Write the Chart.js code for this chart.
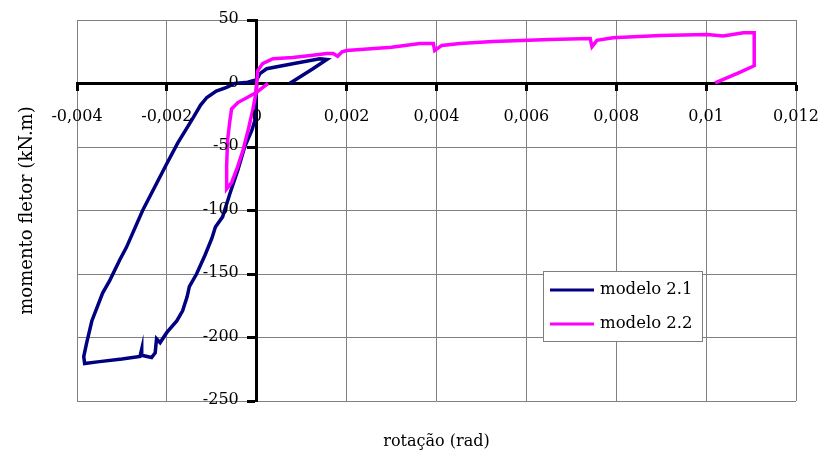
<!DOCTYPE html>
<html>
<head>
<meta charset="utf-8">
<script src="https://cdn.jsdelivr.net/npm/chart.js@4/dist/chart.umd.min.js"></script>
<style>
  html, body { margin: 0; padding: 0; background: #fff; }
  #wrap { width: 824px; height: 455px; }
</style>
</head>
<body>
<div id="wrap"><canvas id="c" width="824" height="455"></canvas></div>
<script>
// ---- data ----
const seriesNames = ['modelo 2.1', 'modelo 2.2'];

const m21Rot = [0, -0.00004, -0.00004, -0.00011, -0.00027, -0.00042, -0.0006, -0.00076, -0.00092, -0.001, -0.00115,
  -0.00134, -0.0015, -0.00155, -0.00165, -0.00178, -0.002, -0.00215, -0.00223, -0.00226, -0.00234, -0.00256, -0.00256,
  -0.0026, -0.003, -0.0035, -0.00383, -0.00385, -0.00379, -0.00367, -0.00343, -0.00327, -0.00305, -0.0029, -0.00254,
  -0.002, -0.00176, -0.00145, -0.00125, -0.00111, -0.0009, -0.00067, -0.00049, -0.0002, 0, 0.00007, 0.00022, 0.0008,
  0.0014, 0.00156, 0.00125, 0.00073];
const m21Mom = [0, -21, -29, -37, -50, -68, -87, -105, -113, -122, -135,
  -150, -160, -168, -179, -187, -196, -204, -201, -212, -215.7, -214, -209,
  -215, -217, -219, -220.5, -215, -205, -187, -165, -155, -139, -129, -100,
  -63, -47, -29, -17, -11, -6, -3, 0, 1, 3, 7.8, 11.6, 15.5,
  19.5, 18.9, 11.6, 0];

const m22Rot = [0.00025, 0.0001, 0, -0.00042, -0.00056, -0.0006, -0.00065, -0.00067, -0.00067, -0.00056, -0.00043,
  -0.00031, -0.00018, -0.00009, -0.00002, 0, 0.00002, 0.00013, 0.00036, 0.0008, 0.0012, 0.00156, 0.0017, 0.0018,
  0.0019, 0.002, 0.003, 0.00363, 0.00393, 0.00396, 0.00412, 0.00452, 0.00526, 0.00652, 0.00742, 0.00746, 0.00757,
  0.00793, 0.00898, 0.01002, 0.01038, 0.01083, 0.01107, 0.01107, 0.01076, 0.0102];
const m22Mom = [0, -4, -7, -15, -20, -30, -45, -65, -83, -78, -66,
  -53, -35, -21, -8, 0, 10, 15.7, 19.5, 20.5, 22, 23.6, 23.6, 21.5,
  25, 26, 28.5, 31.5, 31.5, 26, 30, 31.5, 33, 34.6, 35.4, 29, 34,
  36, 37.8, 38.6, 37.5, 40, 40, 14, 9, 0.5];

const xTickValues = [-0.004, -0.002, 0, 0.002, 0.004, 0.006, 0.008, 0.01, 0.012];
const xTickLabels = ['-0,004', '-0,002', '0', '0,002', '0,004', '0,006', '0,008', '0,01', '0,012'];
const yTickValues = [-250, -200, -150, -100, -50, 0, 50];
const yTickLabels = ['-250', '-200', '-150', '-100', '-50', '0', '50'];

const xTitle = 'rotação (rad)';
const yTitle = 'momento fletor (kN.m)';

// ---- build ----
function pts(xs, ys) { return xs.map((x, i) => ({ x: x, y: ys[i] })); }

const FONT = '"DejaVu Serif", serif';
const TICK_SIZE = 16;

const labelsTitlesLegend = {
  id: 'labelsTitlesLegend',
  afterDraw(chart) {
    const ctx = chart.ctx;
    const ca = chart.chartArea;
    const xs = chart.scales.x, ys = chart.scales.y;
    const axX = xs.getPixelForValue(0);
    const axY = ys.getPixelForValue(0);
    ctx.save();
    ctx.fillStyle = '#000';
    ctx.font = TICK_SIZE + 'px ' + FONT;
    // y tick labels, left of the y axis crossing at x = 0
    ctx.textAlign = 'right';
    ctx.textBaseline = 'middle';
    yTickValues.forEach((v, i) => {
      ctx.fillText(yTickLabels[i], axX - 18, ys.getPixelForValue(v) - 1);
    });
    // x tick labels, below the x axis crossing at y = 0
    ctx.textAlign = 'center';
    ctx.textBaseline = 'middle';
    xTickValues.forEach((v, i) => {
      ctx.fillText(xTickLabels[i], xs.getPixelForValue(v), axY + 33);
    });
    // axis titles
    ctx.font = '16px ' + FONT;
    ctx.fillText(xTitle, (ca.left + ca.right) / 2, 442);
    ctx.save();
    ctx.translate(27, (ca.top + ca.bottom) / 2);
    ctx.rotate(-Math.PI / 2);
    ctx.font = '18px ' + FONT;
    ctx.fillText(yTitle, 0, 0);
    ctx.restore();
    // legend
    const bx = 543, by = 271, bw = 159, bh = 70;
    ctx.fillStyle = '#fff';
    ctx.fillRect(bx, by, bw, bh);
    ctx.strokeStyle = '#7f7f7f';
    ctx.lineWidth = 1;
    ctx.strokeRect(bx + 0.5, by + 0.5, bw, bh);
    ctx.font = '16.5px ' + FONT;
    ctx.textAlign = 'left';
    ctx.textBaseline = 'middle';
    chart.data.datasets.forEach((ds, i) => {
      const yy = by + 19 + i * 34;
      ctx.strokeStyle = ds.borderColor;
      ctx.lineWidth = 3;
      ctx.beginPath();
      ctx.moveTo(bx + 7, yy);
      ctx.lineTo(bx + 51, yy);
      ctx.stroke();
      ctx.fillStyle = '#000';
      ctx.fillText(ds.label, bx + 57, yy);
    });
    ctx.restore();
  }
};

new Chart(document.getElementById('c'), {
  type: 'scatter',
  data: {
    datasets: [
      { label: seriesNames[0], data: pts(m21Rot, m21Mom), borderColor: '#000080', backgroundColor: '#000080',
        showLine: true, pointRadius: 0, borderWidth: 3.5, tension: 0, order: 2 },
      { label: seriesNames[1], data: pts(m22Rot, m22Mom), borderColor: '#ff00ff', backgroundColor: '#ff00ff',
        showLine: true, pointRadius: 0, borderWidth: 3.5, tension: 0, order: 1 }
    ]
  },
  options: {
    responsive: false,
    devicePixelRatio: 1,
    animation: false,
    layout: { padding: { left: 77, top: 20, right: 28, bottom: 54 } },
    plugins: { legend: { display: false }, tooltip: { enabled: false } },
    scales: {
      x: {
        type: 'linear',
        min: -0.004, max: 0.012,
        position: { y: 0 },
        afterBuildTicks: (s) => { s.ticks = xTickValues.map(v => ({ value: v })); },
        ticks: { display: false, autoSkip: false },
        grid: { color: '#808080', lineWidth: 1, tickLength: 6, tickColor: '#000', tickWidth: 3 },
        border: { color: '#000', width: 3 }
      },
      y: {
        type: 'linear',
        min: -250, max: 50,
        position: { x: 0 },
        afterBuildTicks: (s) => { s.ticks = yTickValues.map(v => ({ value: v })); },
        ticks: { display: false, autoSkip: false },
        grid: { color: '#808080', lineWidth: 1, tickLength: 8, tickColor: '#000', tickWidth: 3 },
        border: { color: '#000', width: 3 }
      }
    }
  },
  plugins: [labelsTitlesLegend]
});
</script>
</body>
</html>
